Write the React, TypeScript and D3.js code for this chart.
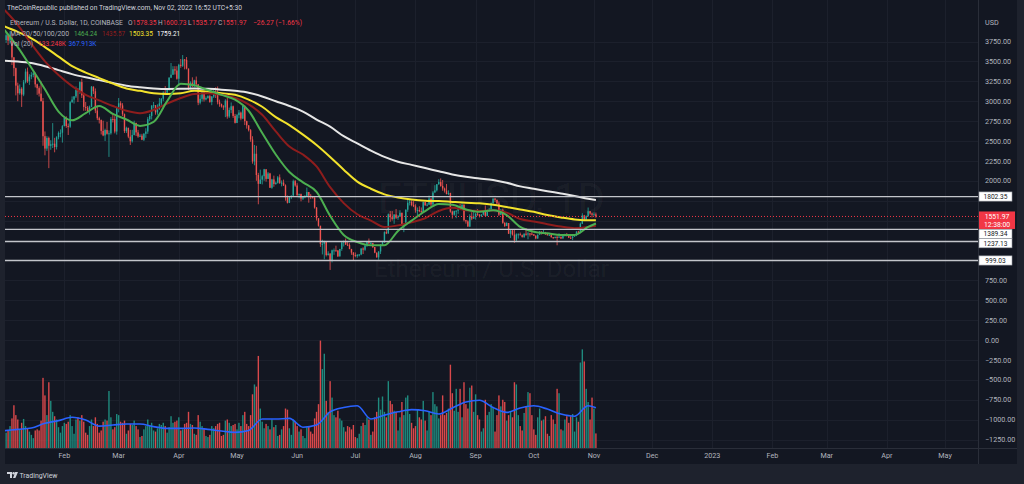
import React, { useEffect, useRef } from 'react';
import * as d3 from 'd3';

// ETH/USD daily, Coinbase, 1 Jan 2022 .. 2 Nov 2022 (index 0 = Jan 1)
const firstOpen = 3683;

const closes: number[] = [
  // Jan
  3769, 3829, 3761, 3795, 3550, 3415, 3196, 3100, 3157, 3083, 3239, 3372, 3250, 3309, 3331, 3350, 3212, 3164, 3095, 3001,
  2560, 2405, 2538, 2440, 2459, 2466, 2424, 2547, 2600, 2604, 2686,
  // Feb
  2790, 2688, 2680, 2987, 3020, 3060, 3140, 3124, 3240, 3073, 2928, 2918, 2874, 2930, 3183, 3125, 2883, 2786, 2763, 2627,
  2570, 2638, 2591, 2597, 2776, 2775, 2619, 2922,
  // Mar
  2974, 2947, 2837, 2624, 2666, 2555, 2497, 2576, 2728, 2608, 2557, 2567, 2516, 2590, 2619, 2774, 2815, 2945, 2950, 2859,
  2896, 2972, 3031, 3109, 3106, 3143, 3296, 3333, 3401, 3385, 3282,
  // Apr
  3457, 3445, 3524, 3519, 3410, 3172, 3233, 3187, 3262, 3212, 2981, 3030, 3116, 3022, 3040, 3064, 2990, 3058, 3104, 3078,
  2987, 2963, 2935, 2922, 3008, 2808, 2889, 2936, 2815, 2728,
  // May
  2825, 2857, 2782, 2940, 2749, 2696, 2636, 2519, 2243, 2340, 2073, 1962, 2015, 2058, 2145, 2024, 2092, 1913, 2017, 1960,
  1975, 2043, 1973, 1977, 1942, 1792, 1724, 1793, 1813, 1996, 1941,
  // Jun
  1821, 1833, 1776, 1804, 1805, 1859, 1813, 1793, 1789, 1664, 1529, 1435, 1207, 1208, 1233, 1068, 1086, 996, 1127, 1127,
  1124, 1051, 1143, 1225, 1243, 1199, 1193, 1143, 1098, 1067,
  // Jul
  1059, 1067, 1074, 1150, 1134, 1186, 1237, 1215, 1218, 1168, 1097, 1038, 1112, 1191, 1233, 1355, 1339, 1580, 1542, 1521,
  1577, 1535, 1550, 1598, 1439, 1450, 1637, 1724, 1738, 1696, 1680,
  // Aug
  1630, 1634, 1618, 1608, 1733, 1693, 1700, 1777, 1703, 1852, 1880, 1957, 1984, 1935, 1903, 1876, 1833, 1846, 1613, 1574,
  1620, 1624, 1663, 1658, 1696, 1505, 1490, 1425, 1551, 1525, 1553,
  // Sep
  1586, 1577, 1556, 1576, 1617, 1560, 1629, 1636, 1718, 1776, 1760, 1716, 1574, 1636, 1472, 1433, 1470, 1335, 1377, 1324,
  1253, 1327, 1328, 1317, 1295, 1335, 1330, 1338, 1336, 1328,
  // Oct + Nov
  1311, 1276, 1323, 1362, 1352, 1352, 1330, 1316, 1322, 1292, 1280, 1295, 1288, 1297, 1275, 1306, 1331, 1311, 1285, 1283,
  1300, 1314, 1363, 1344, 1460, 1565, 1513, 1555, 1618, 1589, 1574, 1578, 1552,
];

const highs: number[] = [
  3770, 3855, 3844, 3878, 3850, 3556, 3422, 3233, 3211, 3176, 3267, 3409, 3422, 3339, 3365, 3376, 3358, 3220, 3187, 3250,
  3040, 2620, 2560, 2555, 2510, 2725, 2540, 2560, 2620, 2646, 2700,
  2815, 2810, 2720, 3000, 3060, 3065, 3185, 3165, 3250, 3282, 3105, 2990, 2940, 2945, 3190, 3185, 3160, 2930, 2805, 2770,
  2755, 2655, 2740, 2633, 2800, 2843, 2812, 2930,
  3040, 3000, 2975, 2845, 2680, 2665, 2640, 2640, 2755, 2728, 2640, 2590, 2590, 2600, 2660, 2800, 2840, 2950, 2990, 2950,
  2960, 3040, 3040, 3125, 3190, 3150, 3300, 3480, 3440, 3440, 3440,
  3470, 3530, 3580, 3530, 3555, 3410, 3250, 3300, 3270, 3310, 3215, 3080, 3130, 3130, 3060, 3075, 3080, 3065, 3150, 3175,
  3185, 3020, 2970, 2950, 3025, 3040, 2920, 2985, 2945, 2840,
  2840, 2890, 2870, 2960, 2950, 2755, 2700, 2650, 2560, 2450, 2440, 2100, 2140, 2075, 2150, 2140, 2110, 2100, 2025, 2065,
  1990, 2060, 2080, 2005, 2015, 1955, 1815, 1805, 1815, 2015, 2010,
  1970, 1840, 1840, 1808, 1820, 1915, 1860, 1835, 1810, 1795, 1670, 1530, 1435, 1260, 1247, 1235, 1115, 1090, 1135, 1150,
  1185, 1130, 1145, 1235, 1250, 1275, 1235, 1215, 1145, 1105,
  1100, 1080, 1080, 1152, 1165, 1192, 1240, 1275, 1235, 1220, 1168, 1100, 1115, 1205, 1245, 1365, 1385, 1590, 1620, 1620,
  1580, 1645, 1570, 1630, 1600, 1465, 1640, 1785, 1765, 1755, 1745,
  1705, 1665, 1680, 1665, 1735, 1735, 1720, 1815, 1777, 1870, 1945, 1960, 2020, 2030, 2010, 1915, 1960, 1880, 1850, 1625,
  1625, 1630, 1668, 1710, 1718, 1710, 1510, 1505, 1580, 1605, 1615,
  1595, 1645, 1580, 1580, 1630, 1690, 1638, 1659, 1728, 1780, 1785, 1765, 1740, 1645, 1650, 1480, 1480, 1470, 1390, 1384,
  1395, 1340, 1340, 1350, 1325, 1340, 1403, 1355, 1345, 1375,
  1330, 1315, 1325, 1369, 1364, 1388, 1358, 1335, 1327, 1330, 1294, 1300, 1313, 1340, 1300, 1310, 1335, 1345, 1315, 1310,
  1305, 1318, 1365, 1372, 1475, 1593, 1572, 1565, 1664, 1620, 1600, 1605, 1601,
];

const lows: number[] = [
  3680, 3733, 3705, 3723, 3454, 3315, 3073, 3000, 3082, 2928, 3063, 3223, 3230, 3205, 3276, 3300, 3173, 3080, 3059, 2995,
  2440, 2320, 2376, 2159, 2390, 2412, 2358, 2393, 2521, 2546, 2480,
  2685, 2665, 2575, 2665, 2980, 2970, 3040, 2990, 3090, 3040, 2880, 2880, 2855, 2832, 2925, 3090, 2850, 2762, 2720, 2582,
  2560, 2500, 2580, 2300, 2580, 2733, 2596, 2580,
  2860, 2900, 2815, 2600, 2600, 2535, 2450, 2480, 2570, 2563, 2540, 2550, 2510, 2500, 2540, 2590, 2750, 2770, 2910, 2830,
  2830, 2895, 2930, 3000, 3080, 3100, 3130, 3290, 3330, 3335, 3270,
  3210, 3420, 3430, 3400, 3400, 3140, 3150, 3180, 3180, 3200, 2950, 2960, 2995, 2995, 3010, 3030, 2980, 2950, 3040, 3040,
  2960, 2930, 2920, 2890, 2800, 2780, 2790, 2850, 2790, 2720,
  2725, 2785, 2760, 2775, 2700, 2655, 2620, 2490, 2215, 2195, 2000, 1705, 1960, 1955, 2000, 1990, 2025, 1910, 1900, 1925,
  1950, 1965, 1960, 1930, 1935, 1750, 1715, 1720, 1770, 1812, 1925,
  1795, 1780, 1742, 1758, 1780, 1805, 1725, 1770, 1780, 1650, 1500, 1425, 1170, 1075, 1015, 1050, 1060, 880, 975, 1070,
  1110, 1042, 1048, 1120, 1175, 1195, 1180, 1140, 1070, 1000,
  1040, 1033, 1050, 1065, 1080, 1120, 1170, 1200, 1205, 1155, 1090, 1035, 1008, 1080, 1180, 1220, 1330, 1335, 1485, 1500,
  1460, 1520, 1510, 1545, 1435, 1355, 1440, 1610, 1690, 1680, 1670,
  1600, 1568, 1605, 1595, 1605, 1685, 1680, 1700, 1680, 1690, 1855, 1865, 1950, 1925, 1875, 1852, 1830, 1820, 1600, 1525,
  1562, 1530, 1585, 1645, 1655, 1490, 1462, 1423, 1420, 1505, 1520,
  1512, 1560, 1540, 1545, 1565, 1555, 1555, 1610, 1636, 1710, 1735, 1705, 1557, 1570, 1460, 1420, 1430, 1333, 1282, 1312,
  1221, 1242, 1274, 1315, 1285, 1282, 1310, 1265, 1300, 1316,
  1306, 1266, 1270, 1321, 1325, 1342, 1320, 1312, 1310, 1285, 1270, 1278, 1190, 1290, 1268, 1273, 1300, 1300, 1280, 1270,
  1255, 1295, 1305, 1333, 1340, 1456, 1510, 1495, 1550, 1573, 1540, 1565, 1536,
];

// daily volume, thousands of ETH
const volumes: number[] = [
  120, 140, 165, 200, 270, 390, 300, 260, 170, 230, 265, 200, 180, 150, 120, 90, 160, 170, 160, 250,
  640, 480, 300, 600, 430, 330, 290, 260, 190, 140, 200,
  230, 220, 240, 300, 200, 130, 260, 280, 250, 300, 240, 140, 120, 200, 260, 200, 280, 220, 140, 160,
  240, 260, 250, 520, 280, 170, 190, 310,
  300, 240, 230, 250, 130, 160, 220, 210, 250, 200, 170, 100, 110, 170, 200, 260, 210, 230, 160, 150,
  180, 220, 210, 230, 200, 140, 190, 290, 230, 240, 250,
  280, 160, 170, 220, 230, 330, 220, 210, 130, 120, 300, 240, 200, 180, 110, 100, 120, 200, 180, 200,
  220, 230, 110, 120, 250, 260, 230, 200, 210, 220,
  170, 230, 200, 300, 330, 220, 200, 300, 490, 580, 560, 840, 360, 240, 180, 220, 200, 170, 260, 190,
  210, 110, 120, 170, 200, 360, 350, 180, 120, 260, 240,
  200, 150, 170, 110, 90, 190, 200, 150, 130, 270, 330, 400, 980, 720, 860, 430, 330, 610, 460, 300,
  280, 340, 270, 250, 190, 150, 200, 190, 170, 210,
  100, 90, 130, 200, 230, 210, 280, 260, 120, 150, 280, 330, 460, 350, 470, 330, 280, 610, 430, 400,
  340, 330, 160, 280, 420, 300, 460, 480, 310, 230, 180,
  200, 350, 280, 260, 430, 250, 160, 330, 300, 510, 400, 380, 270, 300, 480, 300, 320, 360, 760, 500,
  340, 540, 330, 540, 280, 600, 400, 360, 550, 570, 330,
  490, 300, 260, 150, 180, 440, 300, 330, 400, 370, 150, 300, 480, 380, 440, 420, 250, 300, 330, 280,
  600, 580, 300, 200, 160, 320, 380, 510, 500, 300,
  170, 120, 280, 360, 250, 260, 290, 130, 110, 300, 260, 220, 540, 500, 170, 160, 260, 290, 230, 290,
  310, 150, 280, 240, 780, 900, 790, 540, 420, 260, 460, 360, 133,
];

// moving averages, one sample a week
const maDays = [
  0, 7, 14, 21, 28, 35, 42, 49, 56, 63, 70, 77, 84, 91, 98, 105, 112, 119, 126, 133, 140, 147, 154, 161, 168,
  175, 182, 189, 196, 203, 210, 217, 224, 231, 238, 245, 252, 259, 266, 273, 280, 287, 294, 301, 305,
];
const ma20 = [
  3900, 3680, 3420, 3150, 2870, 2760, 2850, 2940, 2840, 2770, 2690, 2740, 3000, 3220, 3200, 3140, 3080, 3020, 2880, 2600,
  2330, 2110, 1980, 1860, 1560, 1320, 1230, 1190, 1190, 1370, 1500, 1620, 1710, 1700, 1640, 1610, 1630, 1570, 1420, 1360,
  1340, 1320, 1320, 1420, 1464,
];
const ma50 = [
  4150, 3960, 3720, 3500, 3330, 3190, 3080, 3010, 2940, 2880, 2850, 2890, 2970, 3040, 3090, 3100, 3080, 3040, 2960, 2830,
  2620, 2430, 2330, 2180, 1920, 1720, 1580, 1500, 1420, 1440, 1480, 1530, 1620, 1660, 1630, 1620, 1630, 1600, 1520, 1490,
  1455, 1425, 1405, 1420, 1436,
];
const ma100 = [
  3940, 3870, 3790, 3680, 3560, 3440, 3360, 3290, 3220, 3160, 3130, 3100, 3090, 3100, 3130, 3120, 3100, 3080, 3020, 2930,
  2800, 2700, 2580, 2450, 2300, 2140, 1990, 1900, 1830, 1790, 1765, 1750, 1745, 1735, 1725, 1717, 1700, 1670, 1640, 1610,
  1570, 1540, 1515, 1505, 1503,
];
const ma200 = [
  3510, 3500, 3480, 3440, 3390, 3340, 3300, 3265, 3230, 3195, 3175, 3160, 3153, 3155, 3160, 3155, 3145, 3130, 3107, 3060,
  3000, 2940, 2870, 2770, 2680, 2560, 2470, 2380, 2300, 2240, 2200, 2160, 2120, 2080, 2050, 2030, 2010, 1975, 1930, 1900,
  1870, 1840, 1810, 1775, 1759,
];
const volMa = [
  158, 170, 182, 225, 250, 280, 255, 200, 210, 219, 219, 195, 179, 179, 182, 170, 155, 143, 160, 264,
  264, 270, 190, 210, 330, 370, 385, 265, 300, 330, 350, 340, 310, 365, 420, 435, 370, 325, 365, 385,
  355, 310, 290, 385, 368,
];

const priceTicks = [3750, 3500, 3250, 3000, 2750, 2500, 2250, 2000, 1750, 1500, 1250, 1000, 750, 500, 250, 0, -250, -500, -750, -1000, -1250];
const monthTicks = [
  '2022-02-01', '2022-03-01', '2022-04-01', '2022-05-01', '2022-06-01', '2022-07-01', '2022-08-01', '2022-09-01',
  '2022-10-01', '2022-11-01', '2022-12-01', '2023-01-01', '2023-02-01', '2023-03-01', '2023-04-01', '2023-05-01',
];
const monthLabels = ['Feb', 'Mar', 'Apr', 'May', 'Jun', 'Jul', 'Aug', 'Sep', 'Oct', 'Nov', 'Dec', '2023', 'Feb', 'Mar', 'Apr', 'May'];

const levels = [1802.35, 1389.34, 1237.13, 999.03];
const lastPrice = 1551.97;
const countdown = '12:38:00';

const FONT = 'Roboto, "Noto Sans", sans-serif';
const UP = '#26a69a';
const DOWN = '#ef5350';

const App: React.FC = () => {
  const ref = useRef<SVGSVGElement | null>(null);

  useEffect(() => {
    const svg = d3.select(ref.current);
    svg.selectAll('*').remove();

    const paneL = 5, paneR = 978, paneB = 448, frameR = 1017, frameB = 464;
    const start = new Date(Date.UTC(2022, 0, 1));
    const day = (i: number) => d3.utcDay.offset(start, i);

    const x = d3.scaleUtc().domain([start, new Date(Date.UTC(2023, 4, 1))]).range([4.2, 945.1]);
    const y = d3.scaleLinear().domain([0, 3750]).range([340, 41.5]);
    const yVol = d3.scaleLinear().domain([0, 1000]).range([paneB, 338.4]);

    // frame
    svg.append('rect').attr('width', 1024).attr('height', 484).attr('fill', '#1e222d');
    svg.append('rect').attr('x', paneL).attr('y', 0).attr('width', frameR - paneL).attr('height', frameB).attr('fill', '#131722');

    const defs = svg.append('defs');
    defs.append('clipPath').attr('id', 'pane')
      .append('rect').attr('x', paneL).attr('y', 0).attr('width', paneR - paneL).attr('height', paneB);

    // grid
    const grid = svg.append('g').attr('stroke', '#1c202c').attr('stroke-width', 1);
    priceTicks.forEach(v => {
      grid.append('line').attr('x1', paneL).attr('x2', paneR).attr('y1', Math.round(y(v)) + 0.5).attr('y2', Math.round(y(v)) + 0.5);
    });
    monthTicks.forEach(m => {
      const xx = Math.round(x(new Date(m + 'T00:00:00Z'))) + 0.5;
      grid.append('line').attr('x1', xx).attr('x2', xx).attr('y1', 0).attr('y2', paneB);
    });

    svg.append('line').attr('x1', paneL).attr('x2', frameR).attr('y1', paneB + 0.5).attr('y2', paneB + 0.5).attr('stroke', '#2a2e39');
    svg.append('line').attr('x1', paneR + 0.5).attr('x2', paneR + 0.5).attr('y1', 0).attr('y2', frameB).attr('stroke', '#2a2e39');

    const chart = svg.append('g').attr('clip-path', 'url(#pane)');

    // watermark
    const wmX = (paneL + paneR) / 2;
    chart.append('text').attr('x', wmX).attr('y', 213).attr('text-anchor', 'middle')
      .attr('font-family', FONT).attr('font-size', 42).attr('fill', '#ffffff').attr('fill-opacity', 0.05)
      .text('ETHUSD, 1D');
    chart.append('text').attr('x', wmX).attr('y', 277).attr('text-anchor', 'middle')
      .attr('font-family', FONT).attr('font-size', 24).attr('fill', '#ffffff').attr('fill-opacity', 0.05)
      .text('Ethereum / U.S. Dollar');

    const opens = closes.map((c, i) => (i === 0 ? firstOpen : closes[i - 1]));
    const isUp = (i: number) => closes[i] >= opens[i];

    // volume
    const bw = 1.4;
    chart.append('g').selectAll('rect').data(volumes).enter().append('rect')
      .attr('x', (d, i) => x(day(i)) - bw / 2)
      .attr('y', d => yVol(d))
      .attr('width', bw)
      .attr('height', d => paneB - yVol(d))
      .attr('fill', (d, i) => (isUp(i) ? '#1f8a7e' : '#d9484b'));

    const vLine = d3.line<number>()
      .x((d, i) => x(day(maDays[i])))
      .y(d => yVol(d))
      .curve(d3.curveMonotoneX);
    chart.append('path').attr('d', vLine(volMa)).attr('fill', 'none').attr('stroke', '#2962ff').attr('stroke-width', 1.6);

    // candles
    const cg = chart.append('g');
    closes.forEach((c, i) => {
      const o = opens[i];
      const hi = Math.max(highs[i], o, c);
      const lo = Math.min(lows[i], o, c);
      const cx = x(day(i));
      const col = isUp(i) ? UP : DOWN;
      cg.append('line').attr('x1', cx).attr('x2', cx).attr('y1', y(hi)).attr('y2', y(lo)).attr('stroke', col).attr('stroke-width', 0.8);
      const top = y(Math.max(o, c));
      const h = Math.max(1, y(Math.min(o, c)) - top);
      cg.append('rect').attr('x', cx - 0.7).attr('y', top).attr('width', 1.4).attr('height', h).attr('fill', col);
    });

    // moving averages
    const maLine = d3.line<number>()
      .x((d, i) => x(day(maDays[i])))
      .y(d => y(d))
      .curve(d3.curveMonotoneX);
    const mas: [number[], string][] = [
      [ma200, '#e6e6e6'],
      [ma100, '#f2e22c'],
      [ma50, '#8e1d1d'],
      [ma20, '#4caf50'],
    ];
    mas.forEach(([vals, col]) => {
      chart.append('path').attr('d', maLine(vals)).attr('fill', 'none').attr('stroke', col).attr('stroke-width', 2);
    });

    // horizontal levels
    levels.forEach(v => {
      svg.append('line').attr('x1', paneL).attr('x2', paneR).attr('y1', y(v)).attr('y2', y(v))
        .attr('stroke', '#c3c5cb').attr('stroke-width', 1.3);
    });
    svg.append('line').attr('x1', paneL).attr('x2', paneR).attr('y1', y(lastPrice)).attr('y2', y(lastPrice))
      .attr('stroke', '#f23645').attr('stroke-width', 1).attr('stroke-dasharray', '1,2');

    // label boxes on the price scale (stacked where they would collide)
    const boxX = 979, boxW = 33;
    const ly = y(lastPrice);
    const boxes: [number, string][] = [
      [y(levels[0]), levels[0].toFixed(2)],
      [233.8, levels[1].toFixed(2)],
      [243.2, levels[2].toFixed(2)],
      [y(levels[3]), levels[3].toFixed(2)],
    ];
    const hidden = (yy: number) =>
      (yy > ly - 6 && yy < ly + 13) || boxes.some(([bc]) => Math.abs(bc - yy) < 7);

    // price axis
    const ax = svg.append('g').attr('font-family', FONT).attr('font-size', 7.2).attr('fill', '#b2b5be');
    ax.append('text').attr('x', 985).attr('y', 24.5).text('USD');
    priceTicks.filter(v => !hidden(y(v))).forEach(v => {
      ax.append('text').attr('x', 985).attr('y', y(v) + 2.6)
        .text((v < 0 ? '\u2212' : '') + Math.abs(v).toFixed(2));
    });

    // time axis
    const tx = svg.append('g').attr('font-family', FONT).attr('font-size', 7.2).attr('fill', '#b2b5be').attr('text-anchor', 'middle');
    monthTicks.forEach((m, i) => {
      tx.append('text').attr('x', x(new Date(m + 'T00:00:00Z'))).attr('y', 457.5).text(monthLabels[i]);
    });

    boxes.forEach(([yc, label]) => {
      svg.append('rect').attr('x', boxX).attr('y', yc - 4.6).attr('width', boxW).attr('height', 9.2)
        .attr('fill', '#ffffff').attr('stroke', '#9598a1').attr('stroke-width', 0.6);
      svg.append('text').attr('x', boxX + boxW / 2).attr('y', yc + 2.3).attr('text-anchor', 'middle')
        .attr('font-family', FONT).attr('font-size', 6.6).attr('fill', '#131722').text(label);
    });

    svg.append('rect').attr('x', boxX).attr('y', ly - 5).attr('width', 36).attr('height', 17.5).attr('fill', '#f23645');
    svg.append('text').attr('x', boxX + 18).attr('y', ly + 2.4).attr('text-anchor', 'middle')
      .attr('font-family', FONT).attr('font-size', 6.8).attr('fill', '#ffffff').text(lastPrice.toFixed(2));
    svg.append('text').attr('x', boxX + 18).attr('y', ly + 10.2).attr('text-anchor', 'middle')
      .attr('font-family', FONT).attr('font-size', 6.8).attr('fill', '#ffffff').text(countdown);

    // legend / header: each entry is a run of [text, colour] parts fitted to a width
    const gray = '#b2b5be';
    const red = '#f23645';
    const header: [[string, string][], number, number, number][] = [
      [[['TheCoinRepublic published on TradingView.com, Nov 02, 2022 16:52 UTC+5:30', '#d1d4dc']], 7, 10, 235],
      [[['Ethereum / U.S. Dollar, 1D, COINBASE', gray]], 10, 25, 113],
      [[['O', gray], ['1578.35', red]], 128, 25, 28.5],
      [[['H', gray], ['1600.73', red]], 158, 25, 28.5],
      [[['L', gray], ['1535.77', red]], 188, 25, 28.5],
      [[['C', gray], ['1551.97', red]], 218, 25, 28.5],
      [[['\u221226.27 (\u22121.66%)', red]], 253, 25, 49],
      [[['MA 20/50/100/200', gray]], 10, 35.5, 59],
      [[['1464.24', '#4caf50']], 74, 35.5, 23],
      [[['1435.57', '#8e1d1d']], 102, 35.5, 23],
      [[['1503.35', '#f2e22c']], 129, 35.5, 24],
      [[['1759.21', '#ffffff']], 157, 35.5, 23],
      [[['Vol (20)', gray]], 10, 45.5, 23],
      [[['133.248K', red]], 38, 45.5, 28],
      [[['367.913K', '#2962ff']], 68.5, 45.5, 28],
    ];
    header.forEach(([parts, hx, hy, w]) => {
      const t = svg.append('text').attr('x', hx).attr('y', hy).attr('font-family', FONT).attr('font-size', 7.2)
        .attr('textLength', w).attr('lengthAdjust', 'spacingAndGlyphs');
      parts.forEach(([s, col]) => t.append('tspan').attr('fill', col).text(s));
    });

    // TradingView mark in the footer
    const logo = svg.append('g').attr('fill', '#d1d4dc');
    logo.append('path').attr('d', 'M7 472 H12 V478 H10 V474 H7 Z');
    logo.append('circle').attr('cx', 13.6).attr('cy', 473.2).attr('r', 1.2);
    logo.append('path').attr('d', 'M15.2 472 H18 L15.4 478 H13 Z');
    svg.append('text').attr('x', 19.5).attr('y', 478).attr('font-family', FONT).attr('font-size', 8)
      .attr('fill', '#d1d4dc').attr('textLength', 38).attr('lengthAdjust', 'spacingAndGlyphs').text('TradingView');
  }, []);

  return (
    <div style={{ position: 'fixed', left: 0, top: 0, width: 1024, height: 484 }}>
      <svg ref={ref} width={1024} height={484} style={{ display: 'block' }} />
    </div>
  );
};

export default App;
